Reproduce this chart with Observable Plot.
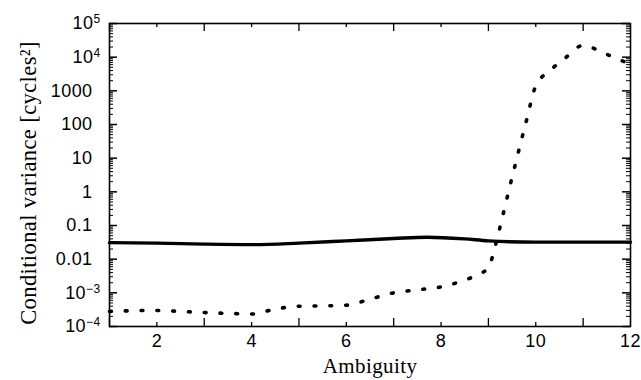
<!DOCTYPE html>
<html><head><meta charset="utf-8">
<script src="https://cdn.jsdelivr.net/npm/d3@7"></script>
<script src="https://cdn.jsdelivr.net/npm/@observablehq/plot@0.6"></script>
<style>body{margin:0;background:#fff}</style>
</head><body><div id="chart"></div>
<script>
// Solid series (conditional variance, fixed ambiguity)
const solidX = [1, 2, 3, 4, 5, 6, 7, 7.7, 8.5, 9, 10, 11, 12];
const solidVar = [0.031, 0.030, 0.028, 0.027, 0.030, 0.035, 0.041, 0.045, 0.040, 0.035, 0.032, 0.032, 0.032];
// Dotted series
const dotX = [1, 1.5, 2, 2.5, 3, 3.5, 4, 4.5, 5, 5.5, 6, 6.5, 7, 7.5, 8, 8.5, 8.8, 9.0, 9.1, 9.2, 9.5, 9.8, 10.0, 10.3, 10.6, 11.0, 11.4, 11.7, 12];
const dotVar = [2.8e-4, 2.95e-4, 3.0e-4, 2.8e-4, 2.6e-4, 2.45e-4, 2.35e-4, 3.3e-4, 4.0e-4, 4.1e-4, 4.3e-4, 6.5e-4, 1.0e-3, 1.23e-3, 1.5e-3, 2.4e-3, 3.6e-3, 5.6e-3, 0.014, 0.05, 2.7, 126, 1400, 4000, 8900, 22400, 14000, 9100, 6300];
// Axis ticks
const xLabelTicks = [2, 4, 6, 8, 10, 12];
const xLongTicks = [1, 3, 5, 7, 9, 11];
const xShortTicks = [2, 4, 6, 8, 10];
const yDecades = [1e-4, 1e-3, 1e-2, 1e-1, 1, 10, 100, 1000, 1e4, 1e5];
const yTickLabels = ["10\u207B\u2074", "10\u207B\u00B3", "0.01", "0.1", "1", "10", "100", "1000", "10\u2074", "10\u2075"];
const yMinorTicks = [];
for (let e = -4; e < 5; e++) for (let m = 2; m <= 9; m++) yMinorTicks.push(m * Math.pow(10, e));

const W = 641, H = 380, mL = 109, mR = 11, mT = 23, mB = 54;
const PH = H - mT - mB, PW = W - mL - mR;
const solid = solidX.map((x, i) => ({x, v: solidVar[i]}));
const dotted = dotX.map((x, i) => ({x, v: dotVar[i]}));
const labelMap = new Map(yDecades.map((d, i) => [d, yTickLabels[i]]));
const serif = "'Liberation Serif', 'Times New Roman', serif";

const plot = Plot.plot({
  width: W, height: H,
  marginLeft: mL, marginRight: mR, marginTop: mT, marginBottom: mB,
  style: {fontFamily: "'Liberation Sans', Arial, sans-serif", fontSize: "18px", color: "black", background: "white", letterSpacing: "0.4px"},
  x: {domain: [1, 12], axis: null},
  y: {type: "log", domain: [1e-4, 1e5], axis: null},
  marks: [
    // tick labels
    Plot.axisX({ticks: xLabelTicks, tickSize: 0, tickPadding: 8, tickFormat: d => String(d), label: null, fontSize: 18}),
    Plot.axisY({ticks: yDecades, tickSize: 0, tickPadding: 17, tickFormat: d => labelMap.get(d), label: null, fontSize: 18}),
    // inward x ticks (bottom and top)
    Plot.ruleX(xLongTicks, {x: d => d, insetTop: PH - 8, strokeWidth: 1.3}),
    Plot.ruleX(xShortTicks, {x: d => d, insetTop: PH - 4, strokeWidth: 1.3}),
    Plot.ruleX(xLongTicks, {x: d => d, insetBottom: PH - 8, strokeWidth: 1.3}),
    Plot.ruleX(xShortTicks, {x: d => d, insetBottom: PH - 4, strokeWidth: 1.3}),
    // inward y ticks (left and right)
    Plot.ruleY(yDecades, {y: d => d, insetRight: PW - 8, strokeWidth: 1.5}),
    Plot.ruleY(yMinorTicks, {y: d => d, insetRight: PW - 4, strokeWidth: 1}),
    Plot.ruleY(yDecades, {y: d => d, insetLeft: PW - 8, strokeWidth: 1.5}),
    Plot.ruleY(yMinorTicks, {y: d => d, insetLeft: PW - 4, strokeWidth: 1}),
    Plot.frame({stroke: "black", strokeWidth: 1.6}),
    // data
    Plot.line(solid, {x: "x", y: "v", stroke: "black", strokeWidth: 3.4, curve: "monotone-x"}),
    Plot.line(dotted, {x: "x", y: "v", stroke: "black", strokeWidth: 3.6, curve: "monotone-x",
      strokeDasharray: "1.8,14", strokeLinecap: "round"}),
    // axis titles
    Plot.text(["Ambiguity"], {frameAnchor: "bottom", lineAnchor: "middle", textAnchor: "middle", dy: 40, text: d => d,
      fontFamily: serif, fontSize: 21, letterSpacing: "0px"}),
    Plot.text(["Conditional variance [cycles\u00B2]"], {frameAnchor: "left", textAnchor: "middle", lineAnchor: "middle",
      rotate: -90, dx: -81, dy: 8, text: d => d, fontFamily: serif, fontSize: 22.5, letterSpacing: "0px"})
  ]
});

// Render exponents of the y tick labels as real superscripts
const supMap = {"\u207B": "\u2212", "\u2074": "4", "\u00B3": "3", "\u2075": "5"};
plot.querySelectorAll('g[aria-label="y-axis tick label"] text').forEach(t => {
  const s = t.textContent;
  if (s.length > 2 && s.startsWith("10") && /[\u207B\u2074\u00B3\u2075]/.test(s.slice(2))) {
    const exp = Array.from(s.slice(2)).map(c => supMap[c] || c).join("");
    t.textContent = "10";
    const ts = document.createElementNS("http://www.w3.org/2000/svg", "tspan");
    ts.setAttribute("dy", "-0.5em");
    ts.setAttribute("font-size", "12px");
    ts.textContent = exp;
    t.appendChild(ts);
    t.setAttribute("transform", (t.getAttribute("transform") || "") + " translate(8,0)");
  }
});
document.getElementById("chart").appendChild(plot);
</script>
</body></html>
